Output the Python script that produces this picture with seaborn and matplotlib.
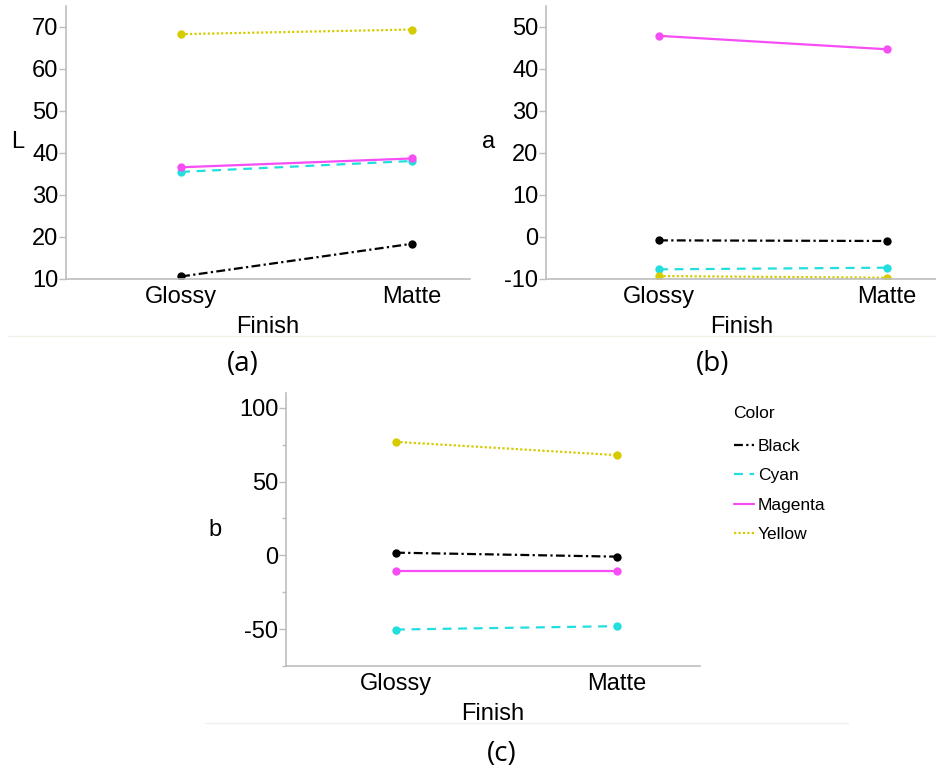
import matplotlib
matplotlib.use("Agg")
import matplotlib.pyplot as plt
from matplotlib.lines import Line2D
from matplotlib.ticker import MultipleLocator
import seaborn as sns
import pandas as pd

sns.set_theme(style="white")
plt.rcParams['font.family'] = ['Liberation Sans', 'DejaVu Sans']
plt.rcParams['axes.unicode_minus'] = False
plt.rcParams['text.color'] = 'black'
plt.rcParams['axes.labelcolor'] = 'black'

finishes = ["Glossy", "Matte"]
colors_order = ["Black", "Cyan", "Magenta", "Yellow"]
L_vals = {"Black": [10.6, 18.4], "Cyan": [35.5, 38.1], "Magenta": [36.6, 38.7], "Yellow": [68.3, 69.4]}
a_vals = {"Black": [-0.8, -0.95], "Cyan": [-7.7, -7.3], "Magenta": [47.9, 44.7], "Yellow": [-9.3, -9.7]}
b_vals = {"Black": [1.8, -0.9], "Cyan": [-50.3, -48.0], "Magenta": [-10.6, -10.6], "Yellow": [76.9, 67.9]}

palette = {"Black": "#000000", "Cyan": "#22dede", "Magenta": "#f64ef4", "Yellow": "#d6cb00"}
dashes = {"Black": (4, 1.5, 1, 1.5), "Cyan": (4, 3), "Magenta": "", "Yellow": (1, 1)}

def make_df(vals):
    rows = []
    for c in colors_order:
        for f, v in zip(finishes, vals[c]):
            rows.append({"Finish": f, "Color": c, "value": v})
    return pd.DataFrame(rows)

W, H = 937, 769
fig = plt.figure(figsize=(W / 100, H / 100), dpi=100)

def ax_at(l, r, t, b):
    return fig.add_axes([l / W, 1 - b / H, (r - l) / W, (b - t) / H])

ax_a = ax_at(66, 470, 6, 279)
ax_b = ax_at(546, 937, 6, 279)
ax_c = ax_at(286, 700, 393, 666)

specs = [
    (ax_a, L_vals, "L", (10, 75), 10, None, (-0.498, 1.25), -0.119),
    (ax_b, a_vals, "a", (-10, 55), 10, None, (-0.496, 1.22), -0.148),
    (ax_c, b_vals, "b", (-75, 110), 50, 25, (-0.498, 1.377), -0.171),
]

FS = 17
for ax, vals, ylabel, ylim, major, minor, xlim, ylx in specs:
    df = make_df(vals)
    sns.lineplot(data=df, x="Finish", y="value", hue="Color", style="Color",
                 hue_order=colors_order, style_order=colors_order,
                 palette=palette, dashes=dashes, markers={c: "o" for c in colors_order},
                 markersize=6, markeredgewidth=0, linewidth=1.6, ax=ax, legend=False)
    ax.set_ylim(*ylim)
    ax.set_xlim(*xlim)
    ax.yaxis.set_major_locator(MultipleLocator(major))
    if minor:
        ax.yaxis.set_minor_locator(MultipleLocator(minor))
    ax.set_ylabel(ylabel, rotation=0, fontsize=FS, va="center", ha="center", color="black")
    ax.yaxis.set_label_coords(ylx, 0.5)
    ax.set_xlabel("Finish", fontsize=FS, labelpad=6, color="black")
    for s in ["top", "right"]:
        ax.spines[s].set_visible(False)
    for s in ["left", "bottom"]:
        ax.spines[s].set_color("#bdbdbd")
        ax.spines[s].set_linewidth(1.2)
    ax.tick_params(axis="y", which="major", left=True, length=5, width=1, color="#bdbdbd",
                   labelsize=FS, pad=0.5, labelcolor="black")
    ax.tick_params(axis="y", which="minor", left=True, length=3, width=1, color="#bdbdbd")
    ax.tick_params(axis="x", bottom=False, length=0, labelsize=FS, pad=5, labelcolor="black")
    ax.set_facecolor("none")

# separators and panel labels
fig.add_artist(Line2D([8 / W, 1.0], [1 - 336 / H] * 2, color="#f2f0e6", lw=1))
fig.add_artist(Line2D([205 / W, 848 / W], [1 - 723 / H] * 2, color="#f0f0ee", lw=1))
lab_font = ['Open Sans', 'DejaVu Sans']
fig.text(243 / W, 1 - 364 / H, "(a)", fontsize=20, family=lab_font, ha="center", va="center", color="black")
fig.text(713 / W, 1 - 364 / H, "(b)", fontsize=20, family=lab_font, ha="center", va="center", color="black")
fig.text(502 / W, 1 - 754 / H, "(c)", fontsize=20, family=lab_font, ha="center", va="center", color="black")

# legend
handles = []
for c in colors_order:
    d = dashes[c]
    h = Line2D([0], [0], color=palette[c], lw=1.6)
    if d:
        h.set_dashes(d)
    handles.append(h)
leg = fig.legend(handles, colors_order, title="Color", loc="upper left",
                 bbox_to_anchor=(718 / W, 1 - 390 / H), frameon=False, fontsize=12.5,
                 title_fontsize=12.5, handlelength=1.15, handletextpad=0.25, labelspacing=0.82,
                 alignment="left", labelcolor="black")
leg.get_title().set_color("black")
leg._legend_box.sep = 13

fig.savefig("out.png", dpi=100)
